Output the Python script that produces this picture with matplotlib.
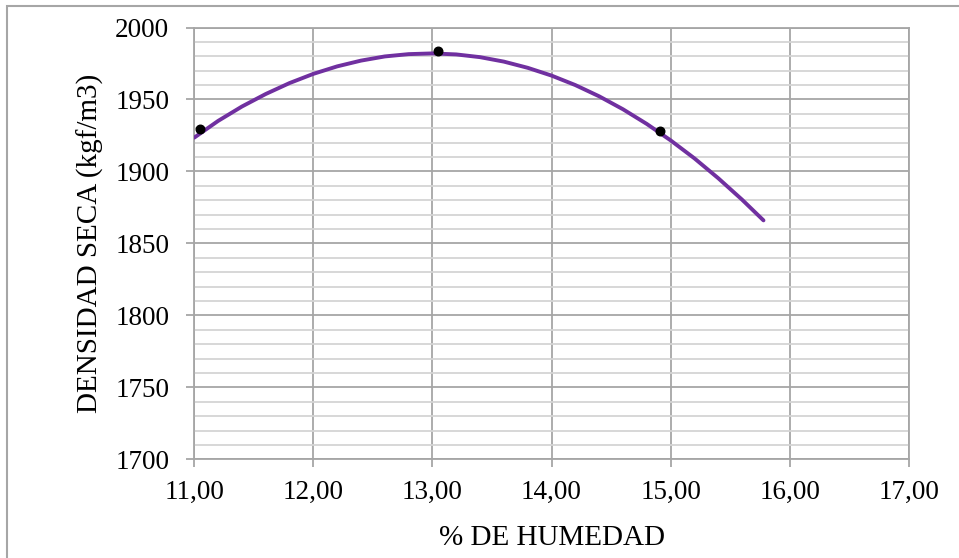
import numpy as np
import matplotlib.pyplot as plt
from matplotlib.patches import Rectangle
from matplotlib.ticker import MultipleLocator, FuncFormatter

plt.rcParams['font.family'] = ['Liberation Serif', 'DejaVu Serif']

# =========================================================
# DATA
# =========================================================

humedad = [11.05, 13.05, 14.91]
densidad = [1929.3, 1983.5, 1928.0]

# trend curve
curva_x = [11.0, 11.2, 11.4, 11.6, 11.8, 12.0, 12.2, 12.4, 12.6, 12.8, 13.0,
           13.2, 13.4, 13.6, 13.8, 14.0, 14.2, 14.4, 14.6, 14.8, 15.0, 15.2,
           15.4, 15.6, 15.78]
curva_y = [1923.5, 1935.1, 1945.1, 1953.8, 1961.4, 1967.8, 1973.0, 1977.0,
           1979.9, 1981.5, 1982.0, 1981.3, 1979.4, 1976.3, 1972.0, 1966.6,
           1960.0, 1952.2, 1943.2, 1933.0, 1921.6, 1909.1, 1895.3, 1880.4,
           1866.0]

# =========================================================
# FIGURE
# =========================================================

fig = plt.figure(figsize=(9.59, 5.58), dpi=100)
ax = fig.add_axes([0.2026, 0.1769, 0.745, 0.7738])

grid_major = "#a6a6a6"
grid_minor = "#d4d4d4"

ax.set_xlim(11, 17)
ax.set_ylim(1700, 2000)

ax.xaxis.set_major_locator(MultipleLocator(1))
ax.yaxis.set_major_locator(MultipleLocator(50))
ax.yaxis.set_minor_locator(MultipleLocator(10))
ax.xaxis.set_major_formatter(FuncFormatter(lambda v, p: f"{v:.2f}".replace(".", ",")))

ax.grid(True, which="major", axis="both", color=grid_major, linewidth=1.3)
ax.grid(True, which="minor", axis="y", color=grid_minor, linewidth=1.3)
ax.set_axisbelow(True)

for s in ax.spines.values():
    s.set_color(grid_major)
    s.set_linewidth(1.3)

ax.tick_params(axis="both", which="major", length=6, width=1.3, color=grid_major,
               labelsize=19.5)
ax.tick_params(axis="y", which="major", pad=12)
ax.tick_params(axis="x", which="major", pad=9)
ax.tick_params(axis="y", which="minor", length=0)

# trend curve
ax.plot(curva_x, curva_y, color="#7030a0", linewidth=2.8,
        solid_capstyle="round", solid_joinstyle="round", zorder=3)

# points
ax.scatter(humedad, densidad, s=38, color="black", zorder=4)

ax.set_xlabel("% DE HUMEDAD", fontsize=21, labelpad=14)
ax.set_ylabel("DENSIDAD SECA (kgf/m3)", fontsize=21, labelpad=8)

# outer chart border
fig.patches.append(Rectangle((7 / 959, -0.1), 1.2, (558 - 6) / 558 + 0.1,
                             transform=fig.transFigure, fill=False,
                             edgecolor="#a6a6a6", linewidth=1.5))

fig.savefig("out.png", dpi=100)
